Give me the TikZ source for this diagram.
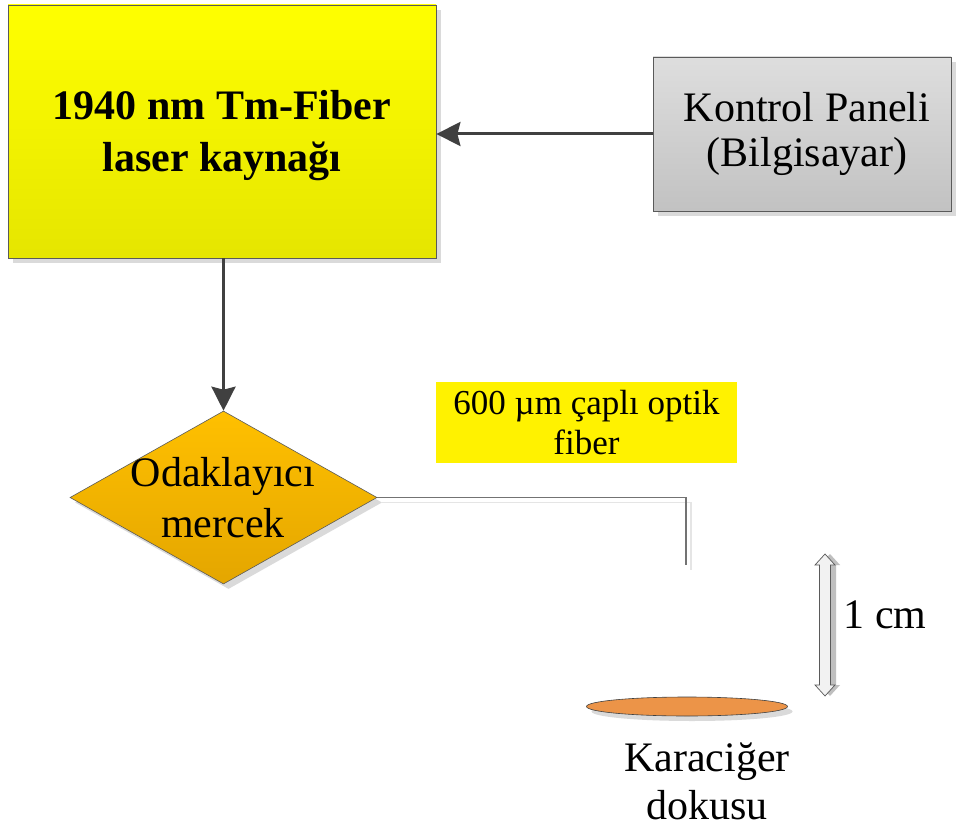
\documentclass[tikz,border=0pt]{standalone}
\usepackage{fontspec}
\setmainfont{Liberation Serif}
\usetikzlibrary{shapes.geometric,arrows.meta,shadows}
\definecolor{edgegray}{HTML}{5A5A5A}
\definecolor{arrgray}{HTML}{404040}
\definecolor{shadowgray}{HTML}{DADADA}
\definecolor{tissue}{HTML}{EC9448}
\definecolor{lenstop}{HTML}{FFC000}
\definecolor{lensbot}{HTML}{E4A600}
\tikzset{
  shad/.style={drop shadow={shadow xshift=5pt,shadow yshift=-5pt,fill=shadowgray,opacity=1}},
  laserbox/.style={rectangle,draw=edgegray,line width=0.8pt,top color=yellow,bottom color=yellow!90!black,shad,minimum width=428pt,minimum height=253pt,inner sep=0pt},
  ctrlbox/.style={rectangle,draw=edgegray,line width=0.8pt,top color=black!13,bottom color=black!24,shad,minimum width=298pt,minimum height=154pt,inner sep=0pt},
  lensbox/.style={diamond,draw=edgegray,line width=0.6pt,top color=lenstop,bottom color=lensbot,shad,minimum width=307pt,minimum height=173pt,inner sep=0pt},
  bigtxt/.style={align=center,inner sep=0pt,font=\fontsize{42}{50}\selectfont},
  arr/.style={draw=arrgray,line width=3pt,-{Stealth[length=24pt,width=24pt,inset=3pt]}},
  fiber/.style={draw=black!55,line width=1.2pt},
}
\begin{document}
\begin{tikzpicture}[x=1pt,y=-1pt]
\useasboundingbox[fill=white] (0,0) rectangle (961,832);
% laser source
\node[laserbox] (laser) at (222,131.5) {};
\node[align=center,inner sep=0pt,font=\fontsize{42}{52}\selectfont\bfseries] (lasertxt) at (222,136) {1940 nm Tm-Fiber\\laser kaynağı};
% control panel
\node[ctrlbox] (ctrl) at (802,134) {};
\node[bigtxt,font=\fontsize{42}{45}\selectfont] (ctrltxt) at (807,134) {Kontrol Paneli\\(Bilgisayar)};
% focusing lens
\node[lensbox] (lens) at (223.5,497.5) {};
\node[bigtxt,font=\fontsize{42}{51}\selectfont] (lenstxt) at (223,497.5) {Odaklayıcı\\mercek};
% arrows
\draw[arr] (ctrl.west) -- (ctrl.west -| laser.east);
\draw[arr] (laser.south -| lens.north) -- (lens.north);
% fiber
\coordinate (fiberend) at (686,565);
\coordinate (fibershend) at (691,570);
\draw[draw=black!10,line width=1.5pt] ([shift={(5,5)}]lens.east) -| (fibershend);
\draw[fiber] (lens.east) -| (fiberend);
% fiber label
\node[fill=yellow,minimum width=301pt,minimum height=81pt,inner sep=0pt,align=center,font=\fontsize{35}{40}\selectfont] (fibertxt) at (586.5,422.5) {600 µm çaplı optik\\fiber};
% tissue
\node[ellipse,draw=black!75,line width=0.6pt,fill=tissue,minimum width=201pt,minimum height=19pt,inner sep=0pt,shad] (tis) at (687,706.5) {};
\node[bigtxt,font=\fontsize{42}{48}\selectfont] (tistxt) at (707,781) {Karaciğer\\dokusu};
% 1 cm double arrow
\begin{scope}[shift={(825,625)}]
\fill[black!25] (5,-71) -- (15,-60) -- (11,-60) -- (11,60) -- (15,60) -- (5,71) -- (-5,60) -- (-1,60) -- (-1,-60) -- (-5,-60) -- cycle;
\filldraw[fill=black!5,draw=edgegray,line width=0.7pt] (0,-71) -- (10,-60) -- (5.5,-60) -- (5.5,60) -- (10,60) -- (0,71) -- (-10,60) -- (-5.5,60) -- (-5.5,-60) -- (-10,-60) -- cycle;
\end{scope}
\node[anchor=base,inner sep=0pt,font=\fontsize{42}{48}\selectfont] (cm) at (885,628) {1 cm};
\end{tikzpicture}
\end{document}
